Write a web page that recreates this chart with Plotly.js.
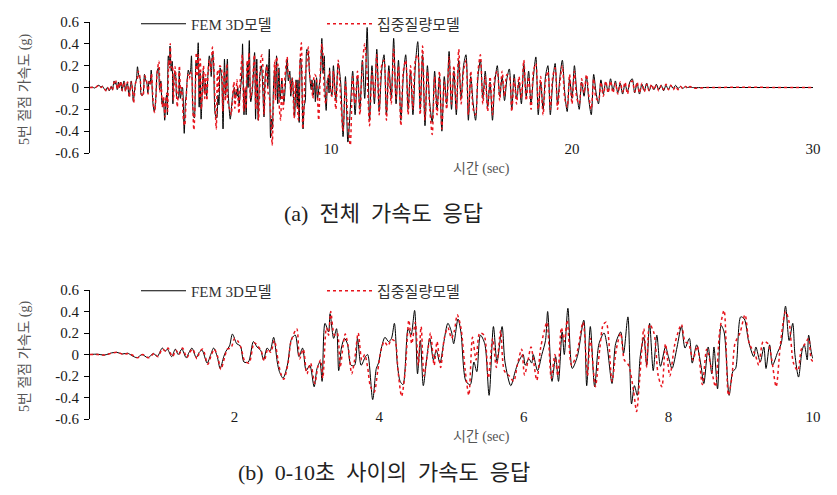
<!DOCTYPE html>
<html>
<head>
<meta charset="utf-8">
<script src="https://cdn.plot.ly/plotly-3.0.1.min.js"></script>
<style>html,body{margin:0;padding:0;background:#fff;}#chart{width:837px;height:495px;}</style>
</head>
<body>
<div id="chart"></div>
<script>
// ---- Data: FEM 3D model (black), peaks/troughs 0-10 s ----
const femT = [0.00,0.10,0.20,0.30,0.37,0.45,0.52,0.58,0.65,0.72,0.80,0.88,0.93,1.00,1.04,1.07,1.13,1.18,1.22,1.27,1.33,1.37,1.41,1.47,1.51,1.55,1.62,1.67,1.71,1.76,1.80,1.85,1.88,1.93,1.97,2.03,2.08,2.13,2.19,2.26,2.31,2.36,2.40,2.45,2.49,2.54,2.59,2.62,2.67,2.73,2.79,2.84,2.89,2.94,2.99,3.04,3.10,3.14,3.18,3.21,3.25,3.30,3.32,3.37,3.41,3.44,3.48,3.52,3.56,3.61,3.66,3.70,3.75,3.81,3.84,3.91,3.96,3.99,4.03,4.08,4.13,4.17,4.21,4.25,4.29,4.33,4.40,4.44,4.49,4.53,4.57,4.61,4.66,4.70,4.75,4.79,4.84,4.89,4.95,5.00,5.03,5.09,5.13,5.20,5.26,5.31,5.35,5.40,5.46,5.52,5.58,5.63,5.70,5.74,5.82,5.88,5.92,5.99,6.02,6.07,6.11,6.13,6.19,6.25,6.30,6.33,6.39,6.44,6.48,6.53,6.56,6.61,6.67,6.74,6.83,6.87,6.92,6.98,7.04,7.11,7.15,7.22,7.27,7.34,7.38,7.44,7.49,7.53,7.57,7.61,7.66,7.70,7.74,7.79,7.84,7.89,7.96,8.00,8.05,8.12,8.18,8.23,8.29,8.33,8.39,8.45,8.49,8.55,8.60,8.63,8.68,8.73,8.77,8.84,8.89,8.93,9.00,9.05,9.11,9.18,9.21,9.27,9.32,9.35,9.40,9.44,9.51,9.56,9.62,9.67,9.72,9.75,9.80,9.85,9.88,9.92,9.94,9.99,10.04];
const femA = [0,0.003,-0.005,0.015,0.02,0.005,0.012,-0.01,-0.03,0.0,-0.03,0.01,-0.02,0.06,0.03,0.05,-0.02,0.05,0.0,0.05,-0.03,0.02,0.06,-0.03,0.02,0.04,-0.08,0.0,0.06,-0.02,-0.13,-0.02,0.03,0.08,0.19,0.10,0.08,-0.07,-0.07,0.12,0.07,0.04,-0.05,0.06,0.03,0.16,-0.07,-0.16,-0.22,-0.10,0.15,0.18,-0.02,0.06,-0.15,-0.10,-0.30,-0.13,-0.07,-0.25,0.29,0.21,0.38,0.15,0.24,-0.15,0.07,0.15,0.10,-0.10,-0.10,0.15,-0.10,-0.02,0.0,-0.42,-0.13,-0.08,0.06,0.16,0.12,0.15,0.29,-0.08,-0.25,-0.28,0.24,0.18,0.41,-0.18,0.13,-0.29,-0.02,0.15,-0.05,0.04,-0.08,0.10,0.29,0.21,0.10,0.33,0.21,-0.25,-0.28,-0.07,-0.16,0.18,0.10,-0.38,0.26,-0.07,0.26,-0.07,-0.29,-0.16,-0.08,0.0,-0.10,-0.04,-0.08,0.0,-0.15,0.0,0.13,0.40,-0.25,-0.02,-0.25,0.21,0.0,0.43,-0.13,-0.02,0.32,-0.29,0.26,-0.30,0.10,0.20,0.09,-0.27,0.10,0.21,0.01,0.35,-0.46,-0.29,-0.38,-0.02,0.16,-0.10,0.29,-0.15,0.18,-0.11,0.07,-0.02,-0.13,0.07,0.26,0.06,0.15,-0.08,0.09,-0.10,-0.27,0.07,-0.18,0.07,-0.32,0.27,0.21,-0.38,-0.16,-0.13,0.35,0.33,0.12,-0.02,0.07,-0.07,0.07,-0.13,0.09,-0.10,0.02,0.10,0.45,0.13,0.29,0.0,-0.21,0.04,0.09,-0.05,0.18,-0.02,-0.07];

// ---- Data: lumped-mass model (red dotted), peaks/troughs 0-10 s ----
const lmT = [0.00,0.10,0.20,0.30,0.38,0.46,0.53,0.60,0.66,0.73,0.81,0.89,0.94,1.00,1.05,1.08,1.14,1.19,1.23,1.28,1.34,1.38,1.42,1.48,1.52,1.56,1.63,1.68,1.72,1.77,1.81,1.86,1.90,1.95,2.00,2.05,2.09,2.14,2.20,2.27,2.32,2.37,2.41,2.46,2.50,2.55,2.60,2.64,2.68,2.74,2.78,2.86,2.90,2.95,3.00,3.05,3.11,3.15,3.19,3.22,3.27,3.30,3.33,3.38,3.42,3.46,3.50,3.53,3.57,3.62,3.66,3.71,3.76,3.80,3.84,3.88,3.93,3.98,4.03,4.07,4.12,4.17,4.22,4.26,4.31,4.36,4.41,4.45,4.50,4.54,4.58,4.62,4.67,4.71,4.76,4.80,4.85,4.90,4.95,5.00,5.04,5.08,5.13,5.19,5.24,5.29,5.34,5.39,5.45,5.51,5.57,5.62,5.68,5.73,5.80,5.86,5.91,5.97,6.01,6.06,6.10,6.18,6.23,6.28,6.32,6.38,6.43,6.47,6.52,6.56,6.60,6.66,6.73,6.82,6.88,6.92,6.99,7.05,7.10,7.14,7.22,7.28,7.34,7.39,7.45,7.52,7.56,7.60,7.66,7.70,7.74,7.80,7.86,7.91,7.96,8.02,8.09,8.18,8.23,8.28,8.34,8.40,8.47,8.53,8.60,8.65,8.71,8.77,8.83,8.88,8.92,8.99,9.06,9.12,9.20,9.25,9.31,9.38,9.43,9.49,9.55,9.62,9.67,9.73,9.79,9.84,9.89,9.94,9.98,10.04];
const lmA = [0,0.0,-0.005,0.012,0.02,0.0,0.01,-0.01,-0.03,0.0,-0.03,0.01,-0.02,0.05,0.03,0.06,-0.02,0.04,0.0,0.06,-0.03,0.02,0.05,-0.04,0.03,0.05,-0.09,0.0,0.05,-0.03,-0.14,-0.03,0.05,0.06,0.15,0.12,0.06,-0.06,-0.08,0.11,0.08,0.03,-0.06,0.05,0.02,0.13,-0.05,-0.18,-0.23,-0.08,0.12,0.24,-0.04,0.05,-0.18,-0.08,-0.27,-0.12,-0.05,-0.22,0.25,0.18,0.40,0.18,0.20,-0.12,0.08,0.19,0.08,-0.18,-0.05,0.20,-0.05,0.0,-0.12,-0.30,-0.35,-0.15,0.05,0.12,0.08,0.14,0.12,-0.15,-0.39,-0.15,0.32,0.10,0.30,-0.10,0.26,-0.20,0.02,0.20,-0.10,0.12,-0.12,0.15,0.25,0.15,0.22,0.37,0.25,-0.15,-0.38,0.16,-0.05,0.20,0.18,-0.22,0.15,-0.12,0.22,-0.15,-0.20,-0.25,-0.10,0.05,-0.19,-0.05,0.07,-0.24,0.05,0.21,0.30,-0.22,0.0,-0.20,0.25,0.12,0.32,-0.10,0.0,0.30,-0.20,0.15,-0.30,0.05,0.28,0.30,-0.25,0.05,0.20,-0.05,-0.10,-0.35,-0.53,-0.25,0.24,-0.12,0.28,0.20,-0.20,-0.30,0.10,-0.20,0.10,0.28,0.12,0.10,-0.05,0.08,-0.28,0.05,-0.15,-0.30,0.22,0.41,-0.38,-0.20,0.10,0.20,0.37,0.10,0.0,-0.10,0.12,0.10,-0.05,-0.30,0.10,0.40,0.30,-0.08,-0.15,0.05,0.10,0.15,-0.05,-0.08];

// ---- Data: 10.1 s onward, sampled every 0.1 s ----
const tailStart = 10.1, tailStep = 0.1;
const femTail = [
 0.20,-0.12,0.22,0.05,-0.45,0.10,-0.50,-0.20,0.15,-0.25,
 0.10,-0.20,0.25,-0.10,0.55,-0.30,0.20,-0.15,0.35,-0.22,
 0.15,0.30,-0.25,0.20,-0.10,0.45,-0.15,0.25,-0.30,0.10,
 0.30,-0.20,0.15,-0.25,0.20,0.42,-0.20,0.30,-0.35,0.20,
 -0.15,-0.32,0.15,-0.20,0.10,-0.40,0.10,-0.15,0.33,-0.20,
 0.15,-0.25,0.25,-0.10,0.20,0.30,-0.30,0.10,-0.15,-0.30,
 0.10,0.25,-0.10,0.15,-0.18,0.05,-0.30,0.05,0.20,-0.08,
 0.10,-0.12,0.08,0.17,-0.20,0.12,-0.10,0.05,-0.15,0.22,
 -0.08,0.15,-0.15,0.10,0.28,-0.25,0.05,-0.20,0.10,0.20,
 -0.25,0.05,0.22,-0.15,0.10,0.25,-0.05,-0.22,0.08,-0.10,
 0.20,-0.05,-0.20,0.05,-0.08,0.10,-0.12,-0.25,0.12,-0.05,
 -0.15,0.07,-0.06,0.05,-0.04,0.08,-0.03,0.06,-0.05,0.04,
 -0.06,0.03,-0.04,0.05,0.08,-0.05,0.04,-0.06,0.03,-0.03,
 0.04,-0.03,0.02,-0.02,0.03,-0.02,0.02,-0.03,0.02,-0.02,
 0.02,-0.01,0.02,-0.01,0.01,-0.01,0.01,0,0.005,0];
const lmTail = [
 0.15,-0.20,0.25,-0.10,-0.40,0.05,-0.30,-0.53,0.10,-0.15,
 0.15,-0.25,0.20,0.40,0.10,-0.35,0.15,-0.10,0.30,-0.25,
 0.20,0.25,-0.30,0.15,-0.15,0.35,-0.10,0.20,-0.35,0.15,
 0.25,-0.25,0.20,-0.20,0.25,0.30,-0.25,0.38,-0.30,0.15,
 -0.20,-0.43,0.10,-0.25,0.15,-0.38,0.05,-0.20,0.28,-0.15,
 0.20,-0.20,0.35,-0.15,0.15,0.25,-0.25,0.15,-0.20,-0.25,
 0.15,0.30,-0.15,0.10,-0.22,0.10,-0.25,0.10,0.15,-0.12,
 0.15,-0.08,0.12,0.10,-0.22,0.08,-0.15,0.10,-0.10,0.25,
 -0.12,0.10,-0.20,0.15,0.22,-0.20,0.10,-0.25,0.05,0.15,
 -0.20,0.10,0.18,-0.20,0.05,0.20,-0.10,-0.18,0.12,-0.15,
 0.15,-0.10,-0.15,0.08,-0.05,0.12,-0.08,-0.20,0.08,-0.10,
 -0.12,0.05,-0.08,0.06,-0.05,0.06,-0.05,0.04,-0.06,0.05,
 -0.04,0.05,-0.06,0.04,0.06,-0.04,0.05,-0.05,0.04,-0.04,
 0.03,-0.03,0.03,-0.02,0.02,-0.03,0.02,-0.02,0.03,-0.02,
 0.02,-0.02,0.01,-0.02,0.01,-0.01,0.01,-0.01,0.01,-0.005];
const endT = [25.6, 30];
const endA = [0, 0];

const seriesNames = ['FEM 3D모델', '집중질량모델'];
const yTicks = [-0.6, -0.4, -0.2, 0, 0.2, 0.4, 0.6];
const yTickText = ['-0.6', '-0.4', '-0.2', '0', '0.2', '0.4', '0.6'];
const xTicksTop = [10, 20, 30];
const xTicksBottom = [2, 4, 6, 8, 10];

// ---- assemble ----
function tailTimes(n){ const a=[]; for(let i=0;i<n;i++){ a.push(+(tailStart+i*tailStep).toFixed(2)); } return a; }
const femX = femT.concat(tailTimes(femTail.length), endT);
const femY = femA.concat(femTail, endA);
const lmX = lmT.concat(tailTimes(lmTail.length), endT);
const lmY = lmA.concat(lmTail, endA);

const serif = 'Liberation Serif, "Times New Roman", "Noto Sans CJK KR", serif';
const blackLine = {color:'#000000', width:1, shape:'spline', smoothing:0.8};
const redLine = {color:'#e8141c', width:1.5, dash:'dot', shape:'spline', smoothing:0.8};

const traces = [
  {x:femX, y:femY, type:'scatter', mode:'lines', name:seriesNames[0], line:blackLine, xaxis:'x', yaxis:'y', legend:'legend'},
  {x:lmX, y:lmY, type:'scatter', mode:'lines', name:seriesNames[1], line:redLine, xaxis:'x', yaxis:'y', legend:'legend'},
  {x:femX, y:femY, type:'scatter', mode:'lines', name:seriesNames[0], line:blackLine, xaxis:'x2', yaxis:'y2', legend:'legend2'},
  {x:lmX, y:lmY, type:'scatter', mode:'lines', name:seriesNames[1], line:redLine, xaxis:'x2', yaxis:'y2', legend:'legend2'}
];

const xd = [90/837, 813/837];
const yTopD = [1-153/495, 1-22/495];
const yBotD = [1-419/495, 1-290/495];
const tickFont = {family: serif, size: 15, color:'#1a1a1a'};

function labelAxis(range, tickvals, pos){
  return {domain:xd, range:range, anchor:'free', position:pos, showline:false, ticks:'', showgrid:false, zeroline:false,
    tickmode:'array', tickvals:tickvals, ticktext:tickvals.map(String), tickfont:tickFont, fixedrange:true};
}
function lineAxis(over, range, dtick, pos){
  return {domain:xd, overlaying:over, range:range, anchor:'free', position:pos, side:'bottom', showline:true, linecolor:'#000', linewidth:1.5,
    ticks:'outside', ticklen:5, tickcolor:'#000', tickwidth:1, dtick:dtick, tick0:0, showticklabels:false, showgrid:false, zeroline:false};
}
function yAxis(domain, anchor){
  return {domain:domain, anchor:anchor, range:[-0.6,0.6], showline:true, linecolor:'#000', linewidth:1, ticks:'outside', ticklen:5,
    tickcolor:'#000', tickvals:yTicks, ticktext:yTickText, tickfont:tickFont, showgrid:false, zeroline:false, ticklabelstandoff:2};
}
function legendBox(yPx){
  return {orientation:'h', x:136/837, xanchor:'left', y:1-yPx/495, yanchor:'middle', bgcolor:'rgba(0,0,0,0)',
    font:{family:serif, size:15, color:'#333'}, entrywidth:126, entrywidthmode:'pixels', itemwidth:45, traceorder:'normal'};
}

const layout = {
  width:837, height:495, margin:{l:0,r:0,t:0,b:0}, paper_bgcolor:'#fff', plot_bgcolor:'#fff', showlegend:true,
  font:{family:serif, color:'#222'},
  xaxis: labelAxis([0,30], xTicksTop, 1-138/495),
  xaxis3: lineAxis('x', [0,30], 5, (yTopD[0]+yTopD[1])/2),
  yaxis: yAxis(yTopD, 'x'),
  xaxis2: labelAxis([0,10], xTicksBottom, 1-406/495),
  xaxis4: lineAxis('x2', [0,10], 1, (yBotD[0]+yBotD[1])/2),
  yaxis2: yAxis(yBotD, 'x2'),
  legend: legendBox(24),
  legend2: legendBox(291),
  annotations:[
    {text:'5번 절점 가속도 (g)', xref:'paper', yref:'paper', x:25/837, y:1-90/495, textangle:-90, showarrow:false,
      font:{family:serif, size:14, color:'#555'}, xanchor:'center', yanchor:'middle'},
    {text:'5번 절점 가속도 (g)', xref:'paper', yref:'paper', x:25/837, y:1-357/495, textangle:-90, showarrow:false,
      font:{family:serif, size:14, color:'#555'}, xanchor:'center', yanchor:'middle'},
    {text:'시간 (sec)', xref:'paper', yref:'paper', x:482/837, y:1-169/495, showarrow:false,
      font:{family:serif, size:14, color:'#555'}, xanchor:'center', yanchor:'middle'},
    {text:'시간 (sec)', xref:'paper', yref:'paper', x:482/837, y:1-437/495, showarrow:false,
      font:{family:serif, size:14, color:'#555'}, xanchor:'center', yanchor:'middle'},
    {text:'(a)  전체  가속도  응답', xref:'paper', yref:'paper', x:383/837, y:1-213/495, showarrow:false,
      font:{family:serif, size:22, color:'#222'}, xanchor:'center', yanchor:'middle'},
    {text:'(b)  0-10초  사이의  가속도  응답', xref:'paper', yref:'paper', x:384/837, y:1-472/495, showarrow:false,
      font:{family:serif, size:22, color:'#222'}, xanchor:'center', yanchor:'middle'}
  ]
};

Plotly.newPlot('chart', traces, layout, {staticPlot:true, displayModeBar:false});
</script>
</body>
</html>
